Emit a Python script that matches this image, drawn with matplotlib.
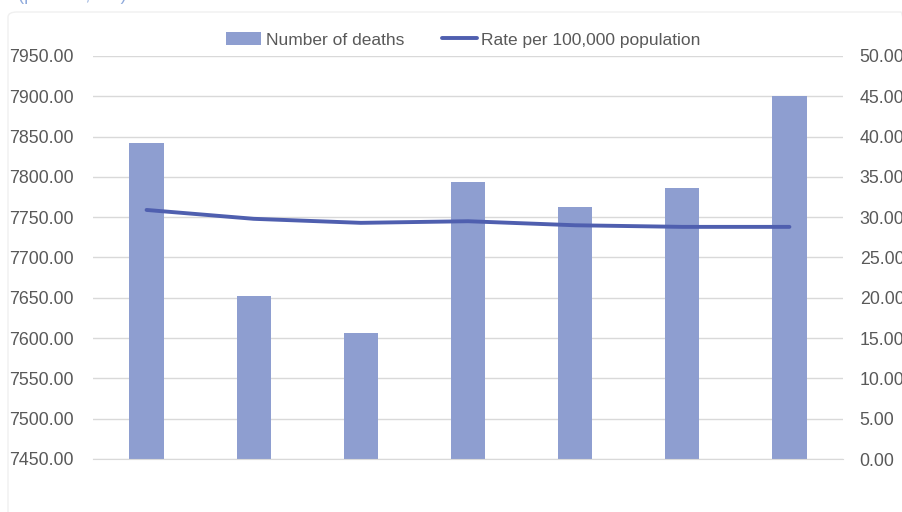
import numpy as np
import matplotlib as mpl
mpl.use('Agg')
from matplotlib import pyplot as plt
from matplotlib.patches import FancyBboxPatch

plt.rcParams['font.family'] = ['Liberation Sans', 'DejaVu Sans']

categories = ['1', '2', '3', '4', '5', '6', '7']
deaths = [7842, 7652, 7606, 7794, 7763, 7786, 7900]
rate = [30.9, 29.8, 29.3, 29.5, 29.0, 28.8, 28.8]

bar_color = '#8E9ED0'
line_color = '#4F5FAF'
grid_color = '#D9D9D9'
text_color = '#595959'

fig = plt.figure(figsize=(9.02, 5.12), dpi=100)
fig.patch.set_facecolor('white')

# faint chart-area border, mostly cut off like the screenshot
fig.patches.append(FancyBboxPatch((8/902, 0.0 - 0.05), 1.0, 1 - 12/512 + 0.05,
                                  boxstyle='round,pad=0,rounding_size=0.01',
                                  transform=fig.transFigure, facecolor='none',
                                  edgecolor='#F0F0F0', linewidth=1, zorder=0))
# cropped title line at the very top
fig.text(18/902, 1.0 + 4/512, '(per 100,000)', color='#8FAADC', fontsize=13,
         ha='left', va='center')

ax = fig.add_axes([93/902, 1 - 459/512, 750/902, 403/512])
ax2 = ax.twinx()

x = np.arange(len(categories))
b = ax.bar(x, deaths, width=0.32, color=bar_color, zorder=2, label='Number of deaths')
l, = ax2.plot(x, rate, color=line_color, linewidth=2.8, solid_capstyle='round',
              label='Rate per 100,000 population', zorder=3)

ax.set_xlim(-0.5, len(categories) - 0.5)
ax.set_ylim(7450, 7950)
ax.set_yticks(np.arange(7450, 7951, 50))
ax.set_yticklabels(['{:.2f}'.format(v) for v in np.arange(7450, 7951, 50)])
ax2.set_ylim(0, 50)
ax2.set_yticks(np.arange(0, 51, 5))
ax2.set_yticklabels(['{:.2f}'.format(v) for v in np.arange(0, 51, 5)])

ax.set_xticks([])
ax.yaxis.grid(True, color=grid_color, linewidth=1)
ax.set_axisbelow(True)
for a in (ax, ax2):
    for s in a.spines.values():
        s.set_visible(False)
    a.tick_params(axis='y', length=0, labelsize=12.8, labelcolor=text_color, pad=14)
ax2.tick_params(axis='y', pad=12)
ax.spines['bottom'].set_visible(True)
ax.spines['bottom'].set_color(grid_color)

fig.legend([b, l], ['Number of deaths', 'Rate per 100,000 population'],
           loc='center', bbox_to_anchor=(463.5/902, 1 - 40/512), ncol=2,
           frameon=False, fontsize=12.5, handlelength=2.0, handletextpad=0.25,
           columnspacing=2.2, labelcolor=text_color)

fig.savefig('out.png', dpi=100)
